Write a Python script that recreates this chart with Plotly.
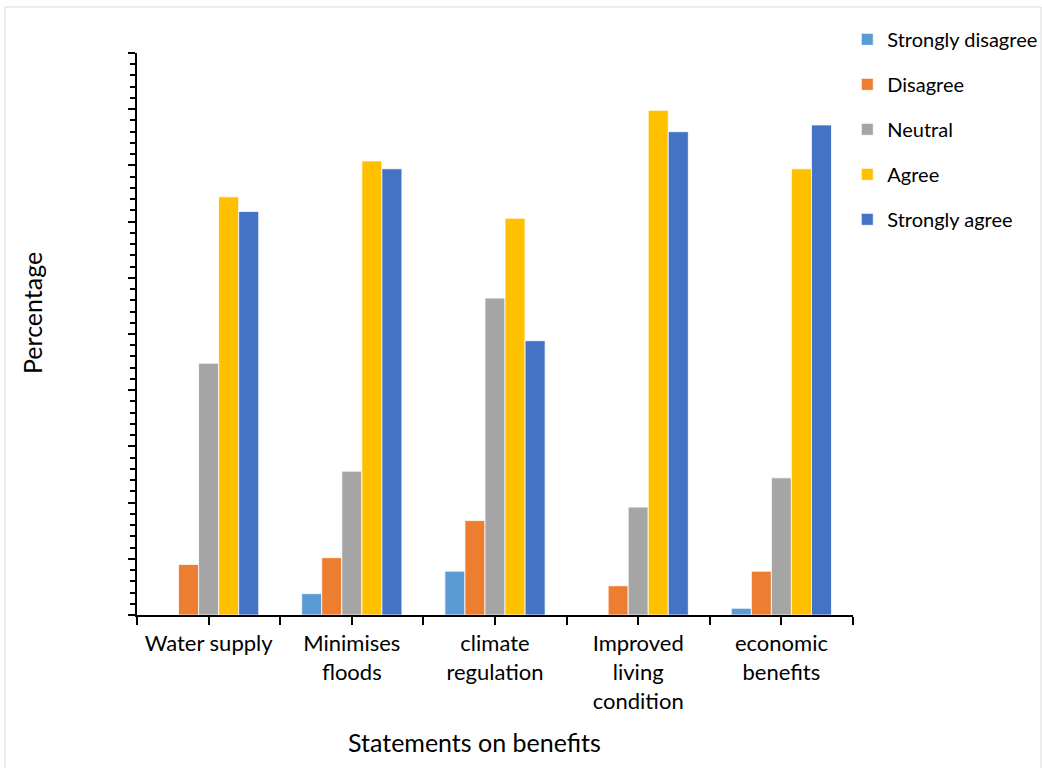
import plotly.graph_objects as go

# Survey responses (% of respondents) for each statement on benefits
categories = ["Water supply", "Minimises<br>floods", "climate<br>regulation",
              "Improved<br>living<br>condition", "economic<br>benefits"]
strongly_disagree = [0.0, 1.9, 3.9, 0.0, 0.6]
disagree = [4.5, 5.1, 8.4, 2.6, 3.9]
neutral = [22.4, 12.8, 28.2, 9.6, 12.2]
agree = [37.2, 40.4, 35.3, 44.9, 39.7]
strongly_agree = [35.9, 39.7, 24.4, 43.0, 43.6]

series = [
    ("Strongly disagree", strongly_disagree, "#5B9BD5"),
    ("Disagree", disagree, "#ED7D31"),
    ("Neutral", neutral, "#A5A5A5"),
    ("Agree", agree, "#FFC000"),
    ("Strongly agree", strongly_agree, "#4472C4"),
]

positions = list(range(len(categories)))
FONT = "Lato, 'Open Sans', sans-serif"

# plot area in pixels: x 137..853, y 53..615
PX_L, PX_W, PX_B, PX_H = 137, 716, 615, 562


def px_x(px):
    return (px - PX_L) / PX_W


def px_y(py):
    return (PX_B - py) / PX_H


fig = go.Figure()
for name, values, color in series:
    fig.add_trace(go.Bar(
        x=positions, y=values, name=name, legendgroup=name,
        marker=dict(color=color, line=dict(color="white", width=0.8)),
    ))

fig.update_layout(
    width=1042, height=768,
    margin=dict(l=137, r=189, t=53, b=153, autoexpand=False),
    paper_bgcolor="white", plot_bgcolor="white",
    barmode="group", bargap=0.3, bargroupgap=0,
    font=dict(family=FONT, size=22, color="#000000"),
    legend=dict(x=0.992, y=1.059, xanchor="left", yanchor="top",
                xref="paper", font=dict(size=20), tracegroupgap=16,
                itemwidth=30, bgcolor="rgba(0,0,0,0)"),
    xaxis=dict(
        range=[-0.5, len(categories) - 0.5],
        tickmode="array", tickvals=positions, ticktext=categories,
        ticks="outside", ticklen=8, tickwidth=1.5, tickcolor="black",
        minor=dict(tickmode="linear", tick0=-0.5, dtick=1, ticks="outside",
                   ticklen=8, tickwidth=1.5, tickcolor="black"),
        showline=True, linecolor="black", linewidth=2,
        showgrid=False, zeroline=False,
    ),
    yaxis=dict(
        range=[0, 50], dtick=5, showticklabels=False,
        ticks="outside", ticklen=7, tickwidth=2, tickcolor="black",
        minor=dict(dtick=1, ticks="outside", ticklen=5, tickwidth=1.5,
                   tickcolor="black"),
        showline=True, linecolor="black", linewidth=2,
        showgrid=False, zeroline=False,
    ),
    annotations=[
        dict(text="Statements on benefits", xref="paper", yref="paper",
             x=px_x(474), y=px_y(742), xanchor="center", yanchor="middle",
             showarrow=False, font=dict(size=25)),
        dict(text="Percentage", xref="paper", yref="paper", textangle=-90,
             x=px_x(32), y=px_y(313), xanchor="center", yanchor="middle",
             showarrow=False, font=dict(size=25)),
    ],
    shapes=[dict(type="rect", xref="paper", yref="paper",
                 x0=px_x(5), x1=px_x(1041), y0=px_y(770), y1=px_y(7),
                 line=dict(color="#D9D9D9", width=1), layer="below")],
)

fig.write_html("out.html")
